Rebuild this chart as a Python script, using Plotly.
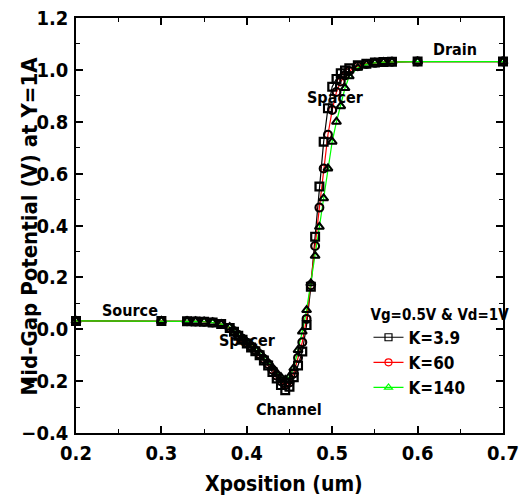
import plotly.graph_objects as go

x_pos = [0.2, 0.3, 0.33, 0.34, 0.35, 0.36, 0.37, 0.38, 0.385, 0.39, 0.395, 0.40, 0.405,
         0.41, 0.415, 0.42, 0.425, 0.43, 0.435, 0.44, 0.445, 0.45, 0.455, 0.46, 0.465,
         0.47, 0.475, 0.48, 0.485, 0.49, 0.495, 0.50, 0.505, 0.51, 0.515, 0.52, 0.53,
         0.54, 0.55, 0.56, 0.57, 0.60, 0.70]

k39 = [0.032, 0.032, 0.031, 0.030, 0.029, 0.026, 0.020, 0.005, -0.010, -0.025, -0.040,
       -0.055, -0.070, -0.085, -0.100, -0.120, -0.140, -0.165, -0.190, -0.215, -0.235,
       -0.222, -0.185, -0.140, -0.086, 0.016, 0.164, 0.357, 0.550, 0.723, 0.852, 0.935,
       0.965, 0.987, 0.998, 1.006, 1.018, 1.024, 1.028, 1.030, 1.031, 1.032, 1.032]

k60 = [0.032, 0.032, 0.031, 0.030, 0.029, 0.026, 0.020, 0.006, -0.008, -0.022, -0.037,
       -0.052, -0.066, -0.081, -0.096, -0.115, -0.134, -0.156, -0.179, -0.200, -0.215,
       -0.205, -0.170, -0.110, -0.050, 0.040, 0.170, 0.321, 0.469, 0.620, 0.750, 0.845,
       0.915, 0.955, 0.978, 0.996, 1.014, 1.023, 1.027, 1.030, 1.031, 1.032, 1.032]

k140 = [0.032, 0.032, 0.031, 0.030, 0.029, 0.026, 0.020, 0.008, -0.006, -0.020, -0.035,
        -0.050, -0.063, -0.078, -0.092, -0.110, -0.128, -0.148, -0.168, -0.185, -0.195,
        -0.183, -0.150, -0.080, -0.009, 0.074, 0.177, 0.283, 0.395, 0.505, 0.620, 0.723,
        0.800, 0.860, 0.930, 0.975, 1.008, 1.021, 1.027, 1.030, 1.031, 1.032, 1.032]

series_names = ["K=3.9", "K=60", "K=140"]
series_vals = [k39, k60, k140]
series_colors = ["#000000", "#ff0000", "#00ff00"]
series_symbols = ["square-open", "circle-open", "triangle-up-open"]

region_labels = ["Source", "Spacer", "Channel", "Spacer", "Drain"]
region_x = [0.263, 0.401, 0.449, 0.504, 0.644]
region_y = [0.074, -0.045, -0.311, 0.895, 1.077]

x_title = "Xposition (um)"
y_title = "Mid-Gap Potential (V) at Y=1A"
legend_title = "Vg=0.5V & Vd=1V"

FONT = "DejaVu Sans Condensed, Liberation Sans Narrow, Arial Narrow, Liberation Sans, sans-serif"

fig = go.Figure()

# coloured lines (legend entries)
for name, vals, col, sym in zip(series_names, series_vals, series_colors, series_symbols):
    fig.add_trace(go.Scatter(
        x=x_pos, y=vals, mode="lines+markers", name=name,
        line=dict(color=col, width=1.2),
        marker=dict(symbol=sym, size=7, color=col, line=dict(width=1.2, color=col)),
        cliponaxis=False,
    ))

# black open markers drawn on top
for name, vals, sym in zip(series_names, series_vals, series_symbols):
    fig.add_trace(go.Scatter(
        x=x_pos, y=vals, mode="markers", showlegend=False, hoverinfo="skip",
        marker=dict(symbol=sym, size=8, color="black", line=dict(width=2, color="black")),
        cliponaxis=False,
    ))

for t, xx, yy in zip(region_labels, region_x, region_y):
    fig.add_annotation(x=xx, y=yy, text="<b>" + t + "</b>", showarrow=False,
                       xanchor="center", yanchor="middle",
                       font=dict(family=FONT, size=16, color="black"))

# axis titles as paper annotations
fig.add_annotation(x=0.487, y=-0.123, xref="paper", yref="paper", showarrow=False,
                   xanchor="center", yanchor="middle",
                   text="<b>" + x_title + "</b>", font=dict(family=FONT, size=21, color="black"))
fig.add_annotation(x=-0.108, y=0.5, xref="paper", yref="paper", showarrow=False,
                   xanchor="center", yanchor="middle",
                   textangle=-90, text="<b>" + y_title + "</b>",
                   font=dict(family=FONT, size=22, color="black"))

axis_common = dict(
    showline=True, linecolor="black", linewidth=1.5, mirror="ticks",
    ticks="inside", ticklen=7, tickwidth=1.5, tickcolor="black",
    showgrid=False, zeroline=False, automargin=False,
    tickfont=dict(family=FONT, size=20, color="black", weight="bold"),
)

fig.update_xaxes(
    range=[0.2, 0.7], dtick=0.1, tick0=0.2, tickformat=".1f",
    minor=dict(ticks="inside", ticklen=4, dtick=0.05, tickcolor="black", tickwidth=1.2),
    ticklabelstandoff=1,
    **axis_common,
)
fig.update_yaxes(
    range=[-0.4, 1.2], dtick=0.2, tick0=-0.4, tickformat=".1f",
    minor=dict(ticks="inside", ticklen=4, dtick=0.1, tickcolor="black", tickwidth=1.2),
    ticklabelstandoff=2,
    **axis_common,
)

fig.update_layout(
    width=527, height=497,
    margin=dict(l=76, r=24, t=18, b=64, autoexpand=False),
    plot_bgcolor="white", paper_bgcolor="white",
    legend=dict(
        x=0.685, y=0.32, xanchor="left", yanchor="top",
        title=dict(text="<b>" + legend_title + "</b>", font=dict(family=FONT, size=15, color="black")),
        font=dict(family=FONT, size=17, color="black", weight="bold"),
        bgcolor="rgba(0,0,0,0)", tracegroupgap=0, itemwidth=30,
    ),
    showlegend=True,
)

fig.write_html("out.html", config={"displayModeBar": False},
               post_script="document.body.style.margin='0';document.body.style.overflow='hidden';")
